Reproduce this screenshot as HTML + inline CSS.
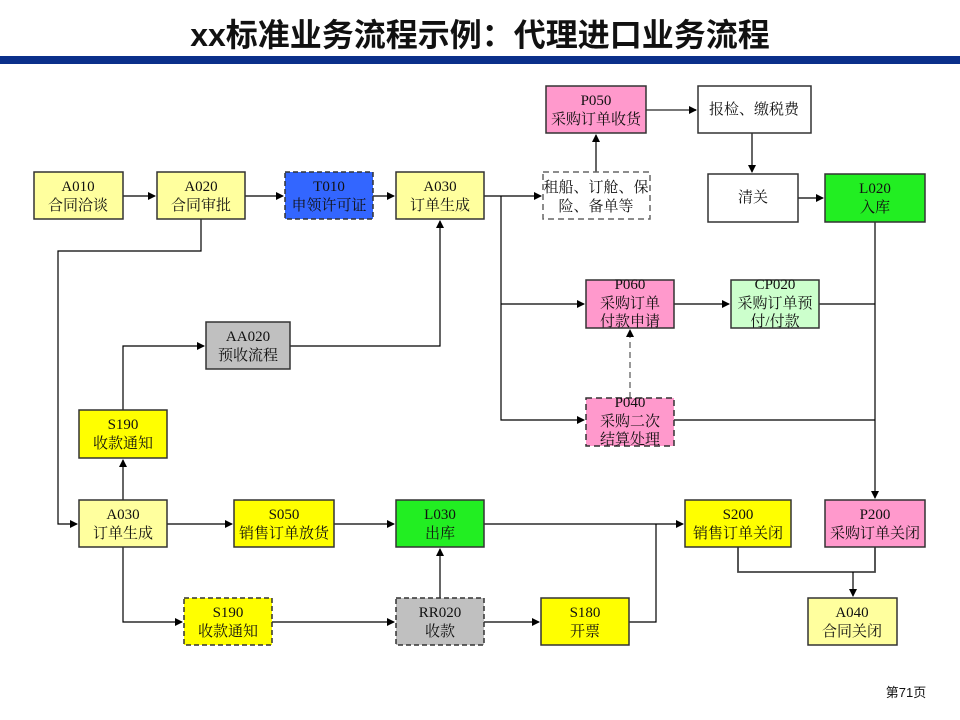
<!DOCTYPE html>
<html><head><meta charset="utf-8"><style>
html,body{margin:0;padding:0;background:#fff;width:960px;height:720px;overflow:hidden}
svg text{font-family:"Liberation Serif","Noto Serif CJK SC",serif;font-size:15px;text-anchor:middle;fill:#111}
.t{font-family:"Liberation Sans","Noto Sans CJK SC",sans-serif;font-weight:bold;font-size:32px;fill:#111}
</style></head><body>
<svg width="960" height="720" viewBox="0 0 960 720" xmlns="http://www.w3.org/2000/svg">
<defs><marker id="a" markerWidth="8" markerHeight="8" refX="7" refY="4" orient="auto" markerUnits="userSpaceOnUse"><path d="M0,0 L8,4 L0,8 z" fill="#000"/></marker></defs>
<text x="480" y="46" class="t">xx标准业务流程示例：代理进口业务流程</text>
<rect x="0" y="56" width="960" height="8" fill="#0a2f8a"/>

<g stroke="#000" stroke-width="1.2" fill="none">
<line x1="123" y1="196" x2="155" y2="196" marker-end="url(#a)"/>
<line x1="245" y1="196" x2="283" y2="196" marker-end="url(#a)"/>
<line x1="373" y1="196" x2="394" y2="196" marker-end="url(#a)"/>
<line x1="484" y1="196" x2="541" y2="196" marker-end="url(#a)"/>
<polyline points="501,196 501,420 584,420" marker-end="url(#a)"/>
<line x1="501" y1="304" x2="584" y2="304" marker-end="url(#a)"/>
<line x1="596" y1="172" x2="596" y2="135" marker-end="url(#a)"/>
<line x1="646" y1="110" x2="696" y2="110" stroke="#777" stroke-width="2" marker-end="url(#a)"/>
<line x1="752" y1="133" x2="752" y2="172" marker-end="url(#a)"/>
<line x1="798" y1="198" x2="823" y2="198" marker-end="url(#a)"/>
<line x1="875" y1="222" x2="875" y2="498" marker-end="url(#a)"/>
<line x1="819" y1="304" x2="875" y2="304"/>
<line x1="674" y1="420" x2="875" y2="420"/>
<line x1="674" y1="304" x2="729" y2="304" marker-end="url(#a)"/>
<line x1="630" y1="398" x2="630" y2="330" stroke-dasharray="6,4" stroke="#555" marker-end="url(#a)"/>
<polyline points="201,219 201,251 58,251 58,524 77,524" marker-end="url(#a)"/>
<line x1="123" y1="500" x2="123" y2="460" marker-end="url(#a)"/>
<polyline points="123,410 123,346 204,346" marker-end="url(#a)"/>
<polyline points="290,346 440,346 440,221" marker-end="url(#a)"/>
<line x1="167" y1="524" x2="232" y2="524" marker-end="url(#a)"/>
<line x1="334" y1="524" x2="394" y2="524" marker-end="url(#a)"/>
<line x1="484" y1="524" x2="683" y2="524" marker-end="url(#a)"/>
<polyline points="629,622 656,622 656,524"/>
<polyline points="123,547 123,622 182,622" marker-end="url(#a)"/>
<line x1="272" y1="622" x2="394" y2="622" marker-end="url(#a)"/>
<line x1="484" y1="622" x2="539" y2="622" marker-end="url(#a)"/>
<line x1="440" y1="598" x2="440" y2="549" marker-end="url(#a)"/>
<polyline points="738,547 738,572 875,572 875,547" stroke="#444" stroke-width="1.8"/>
<line x1="853" y1="572" x2="853" y2="596" marker-end="url(#a)"/>
</g>

<g stroke="#333" stroke-width="1.5">
<rect x="34" y="172" width="89" height="47" fill="#ffff9e"/>
<rect x="157" y="172" width="88" height="47" fill="#ffff9e"/>
<rect x="285" y="172" width="88" height="47" fill="#3366ff" stroke-dasharray="5,3"/>
<rect x="396" y="172" width="88" height="47" fill="#ffff9e"/>
<rect x="543" y="172" width="107" height="47" fill="#fff" stroke="#666" stroke-dasharray="6,4"/>
<rect x="546" y="86" width="100" height="47" fill="#ff99cc"/>
<rect x="698" y="86" width="113" height="47" fill="#fff"/>
<rect x="708" y="174" width="90" height="48" fill="#fff"/>
<rect x="825" y="174" width="100" height="48" fill="#22ee22"/>
<rect x="586" y="280" width="88" height="48" fill="#ff99cc"/>
<rect x="731" y="280" width="88" height="48" fill="#ccffcc"/>
<rect x="206" y="322" width="84" height="47" fill="#c0c0c0"/>
<rect x="586" y="398" width="88" height="48" fill="#ff99cc" stroke-dasharray="6,4"/>
<rect x="79" y="410" width="88" height="48" fill="#ffff00"/>
<rect x="79" y="500" width="88" height="47" fill="#ffff9e"/>
<rect x="234" y="500" width="100" height="47" fill="#ffff00"/>
<rect x="396" y="500" width="88" height="47" fill="#22ee22"/>
<rect x="685" y="500" width="106" height="47" fill="#ffff00"/>
<rect x="825" y="500" width="100" height="47" fill="#ff99cc"/>
<rect x="184" y="598" width="88" height="47" fill="#ffff00" stroke-dasharray="5,3"/>
<rect x="396" y="598" width="88" height="47" fill="#c0c0c0" stroke-dasharray="5,3"/>
<rect x="541" y="598" width="88" height="47" fill="#ffff00"/>
<rect x="808" y="598" width="89" height="47" fill="#ffff9e"/>
</g>

<g>
<text x="78" y="191">A010</text><text x="78" y="210">合同洽谈</text>
<text x="201" y="191">A020</text><text x="201" y="210">合同审批</text>
<text x="329" y="191">T010</text><text x="329" y="210">申领许可证</text>
<text x="440" y="191">A030</text><text x="440" y="210">订单生成</text>
<text x="596" y="192">租船、订舱、保</text><text x="596" y="211">险、备单等</text>
<text x="596" y="105">P050</text><text x="596" y="124">采购订单收货</text>
<text x="754" y="114">报检、缴税费</text>
<text x="753" y="202">清关</text>
<text x="875" y="193">L020</text><text x="875" y="212">入库</text>
<text x="630" y="289">P060</text><text x="630" y="308">采购订单</text><text x="630" y="326">付款申请</text>
<text x="775" y="289">CP020</text><text x="775" y="308">采购订单预</text><text x="775" y="326">付/付款</text>
<text x="248" y="341">AA020</text><text x="248" y="360">预收流程</text>
<text x="630" y="407">P040</text><text x="630" y="426">采购二次</text><text x="630" y="444">结算处理</text>
<text x="123" y="429">S190</text><text x="123" y="448">收款通知</text>
<text x="123" y="519">A030</text><text x="123" y="538">订单生成</text>
<text x="284" y="519">S050</text><text x="284" y="538">销售订单放货</text>
<text x="440" y="519">L030</text><text x="440" y="538">出库</text>
<text x="738" y="519">S200</text><text x="738" y="538">销售订单关闭</text>
<text x="875" y="519">P200</text><text x="875" y="538">采购订单关闭</text>
<text x="228" y="617">S190</text><text x="228" y="636">收款通知</text>
<text x="440" y="617">RR020</text><text x="440" y="636">收款</text>
<text x="585" y="617">S180</text><text x="585" y="636">开票</text>
<text x="852" y="617">A040</text><text x="852" y="636">合同关闭</text>
<text x="906" y="697" style="font-family:'Liberation Sans','Noto Sans CJK SC',sans-serif;font-size:13px">第71页</text>
</g>
</svg>
</body></html>
